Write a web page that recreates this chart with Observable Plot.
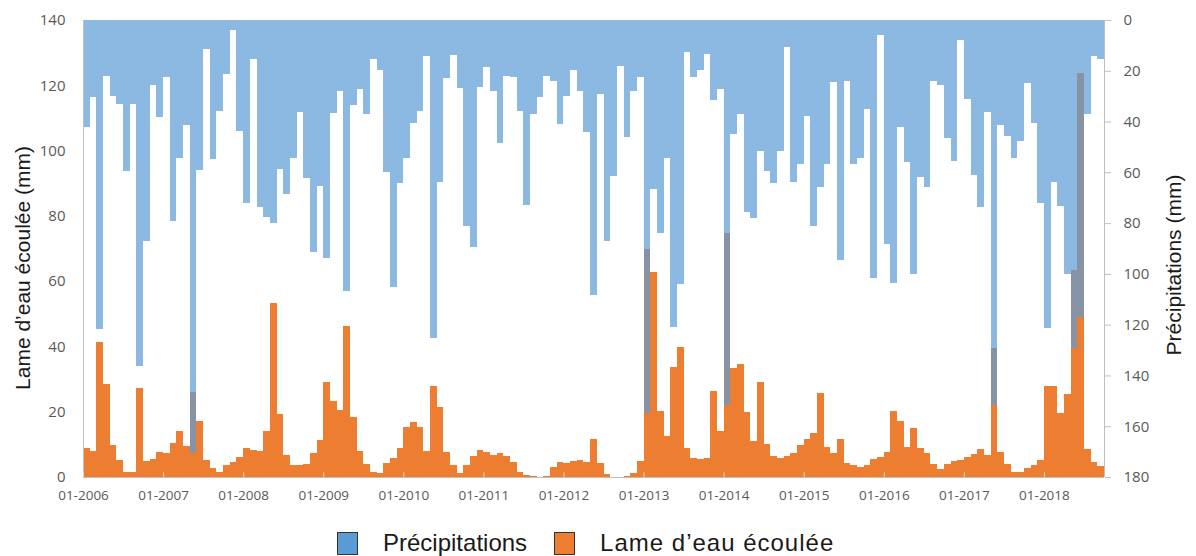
<!DOCTYPE html>
<html>
<head>
<meta charset="utf-8">
<script src="https://cdn.jsdelivr.net/npm/d3@7"></script>
<script src="https://cdn.jsdelivr.net/npm/@observablehq/plot@0.6"></script>
<style>
  html, body { margin: 0; padding: 0; background: #fff; }
  body { width: 1196px; height: 556px; overflow: hidden; position: relative; font-family: "Liberation Sans", Arial, sans-serif; }
  #chart { position: absolute; left: 0; top: 0; }
  .legend { position: absolute; top: 531px; left: 337px; display: flex; align-items: center; font-size: 24px; color: #1a1a1a; white-space: nowrap; line-height: 24px; }
  .sw { width: 21px; height: 23px; border: 1px solid #333; box-sizing: border-box; display: inline-block; }
  .item { display: flex; align-items: center; }
  .lab { margin-left: 25px; }
</style>
</head>
<body>
<div id="chart"></div>
<div class="legend">
  <span class="item"><span class="sw" style="background:#5B9BD5"></span><span class="lab">Précipitations</span></span>
  <span class="item" style="margin-left:27px"><span class="sw" style="background:#ED7D31"></span><span class="lab" style="letter-spacing:1px">Lame d’eau écoulée</span></span>
</div>
<script>
// Monthly series, January 2006 – September 2018
const startYear = 2006;
const precipitation = [
  42.3, 30.5, 121.8, 22.0, 29.9, 33.1, 59.5, 33.1, 136.1, 87.0, 25.7, 38.3,
  22.6, 79.2, 54.2, 41.4, 170.7, 59.1, 11.6, 54.9, 35.7, 21.4, 3.9, 43.6,
  72.2, 15.5, 73.5, 77.7, 79.8, 58.7, 68.7, 54.5, 36.4, 62.4, 91.3, 65.3,
  93.6, 36.8, 28.0, 106.6, 33.5, 27.2, 37.0, 15.5, 19.7, 59.7, 105.3, 64.3,
  54.5, 40.7, 35.7, 14.2, 125.4, 63.9, 23.0, 13.8, 26.9, 81.1, 89.5, 26.5,
  18.4, 28.0, 48.6, 21.9, 22.3, 35.7, 72.9, 37.2, 30.5, 21.9, 24.0, 41.0,
  29.9, 19.7, 28.0, 44.0, 108.3, 29.3, 87.0, 61.4, 18.1, 46.2, 27.8, 22.3,
  154.7, 66.7, 84.0, 54.5, 120.8, 104.0, 12.7, 22.3, 19.7, 13.5, 31.5, 27.3,
  151.6, 44.9, 37.0, 75.5, 78.1, 51.6, 59.5, 64.1, 51.6, 10.8, 63.7, 56.7,
  37.7, 81.1, 65.9, 56.7, 24.3, 94.5, 23.9, 56.8, 54.2, 35.2, 101.5, 5.9,
  88.4, 103.7, 42.0, 55.8, 100.0, 61.7, 65.9, 23.9, 25.6, 46.3, 55.4, 7.9,
  31.1, 61.0, 73.5, 36.4, 151.6, 41.4, 45.6, 54.5, 47.7, 24.7, 40.7, 72.0,
  121.4, 63.9, 73.3, 100.2, 129.0, 117.1, 37.0, 14.2, 15.4
];
const runoff = [
  8.8, 8.1, 41.3, 28.5, 9.8, 5.2, 1.4, 1.4, 27.4, 5.0, 5.5, 7.8,
  7.3, 10.5, 14.1, 9.5, 25.9, 17.2, 5.2, 2.7, 1.6, 3.7, 4.6, 6.0,
  8.8, 8.3, 8.1, 14.1, 53.4, 19.3, 6.7, 3.7, 3.7, 4.0, 7.5, 11.3,
  29.0, 23.4, 20.5, 46.4, 18.3, 8.1, 3.9, 1.6, 1.1, 4.3, 5.9, 8.8,
  15.2, 16.8, 15.2, 8.1, 28.0, 21.5, 7.8, 3.7, 1.3, 3.7, 6.4, 8.3,
  7.6, 6.7, 7.2, 6.4, 4.5, 1.6, 0.6, 0.3, 0.0, 0.2, 3.0, 4.7,
  4.2, 4.9, 5.2, 4.7, 11.5, 4.2, 0.8, 0.0, 0.0, 0.3, 1.3, 5.0,
  69.8, 62.7, 20.3, 12.6, 33.8, 39.9, 8.8, 5.9, 5.4, 5.9, 26.4, 14.2,
  74.9, 33.5, 34.6, 20.0, 11.0, 29.0, 10.1, 6.4, 5.9, 6.4, 7.5, 9.8,
  11.5, 13.6, 25.8, 9.3, 7.5, 11.6, 4.2, 3.7, 3.0, 3.7, 5.4, 6.2,
  7.8, 20.3, 17.2, 9.3, 14.9, 8.8, 7.5, 4.0, 2.3, 4.0, 5.0, 5.2,
  6.2, 6.9, 8.5, 6.7, 39.4, 7.8, 4.0, 1.6, 1.6, 2.7, 3.7, 5.2,
  27.9, 27.9, 19.5, 25.3, 63.4, 123.9, 8.5, 4.7, 3.4
];
const yearLabels = ["01-2006","01-2007","01-2008","01-2009","01-2010","01-2011","01-2012",
                    "01-2013","01-2014","01-2015","01-2016","01-2017","01-2018"];
const leftTicks = [0, 20, 40, 60, 80, 100, 120, 140];
const rightTickValues = [0, 20, 40, 60, 80, 100, 120, 140, 160, 180];

const leftMax = 140, rightMax = 180;
const n = precipitation.length;
const data = d3.range(n).map(i => ({i, p: precipitation[i], r: runoff[i]}));
// map a precipitation value (right, inverted axis) into left-axis units
const toLeft = p => leftMax - p * leftMax / rightMax;
const yearTicks = yearLabels.map((_, k) => k * 12);

const plot = Plot.plot({
  width: 1196,
  height: 512,
  marginLeft: 83,
  marginRight: 92,
  marginTop: 20,
  marginBottom: 35,
  x: {type: "linear", domain: [0, n], axis: null},
  y: {domain: [0, leftMax], axis: null},
  style: {fontFamily: "'Open Sans', sans-serif", fontSize: "15px", color: "#595959", background: "#fff", overflow: "visible"},
  marks: [
    Plot.rect(data, {x1: "i", x2: d => d.i + 1, y1: 0, y2: "r", fill: "#ED7D31", shapeRendering: "crispEdges"}),
    Plot.rect(data, {x1: "i", x2: d => d.i + 1, y1: d => toLeft(d.p), y2: leftMax, fill: "#5B9BD5", fillOpacity: 0.7, shapeRendering: "crispEdges"}),
    Plot.ruleY([0], {stroke: "#BFBFBF"}),
    Plot.ruleX([0], {stroke: "#BFBFBF"}),
    Plot.ruleX([n], {stroke: "#BFBFBF"}),
    Plot.ruleX(yearTicks, {x: d => d, y1: 0, y2: 0, insetBottom: 5, stroke: "#D9D9D9"}),
    Plot.axisY({anchor: "left", ticks: leftTicks, tickSize: 0, tickPadding: 18, label: null, fill: "#595959"}),
    Plot.axisY({anchor: "right", ticks: rightTickValues.map(toLeft), tickSize: 6, tickPadding: 13,
      tickFormat: d => String(Math.round((leftMax - d) * rightMax / leftMax)), label: null, stroke: "#BFBFBF", fill: "#595959"}),
    Plot.axisX({ticks: yearTicks, tickSize: 0, tickPadding: 13, tickFormat: d => yearLabels[Math.round(d / 12)],
      fontSize: 13.5, label: null, fill: "#595959"})
  ]
});

const svg = d3.select(plot);
svg.append("text")
  .attr("transform", "translate(22,268) rotate(-90)")
  .attr("text-anchor", "middle").attr("dominant-baseline", "central")
  .style("font-family", "'Liberation Sans', Arial, sans-serif").style("font-size", "21px").style("fill", "#1a1a1a")
  .text("Lame d’eau écoulée (mm)");
svg.append("text")
  .attr("transform", "translate(1173,265) rotate(-90)")
  .attr("text-anchor", "middle").attr("dominant-baseline", "central")
  .style("font-family", "'Liberation Sans', Arial, sans-serif").style("font-size", "21px").style("fill", "#1a1a1a")
  .text("Précipitations (mm)");

document.getElementById("chart").appendChild(plot);
</script>
</body>
</html>
